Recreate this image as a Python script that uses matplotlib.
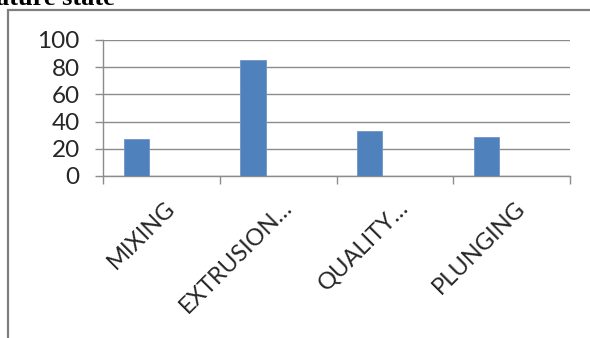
import numpy as np
import matplotlib.pyplot as plt
import matplotlib.transforms as mtransforms
from matplotlib.patches import Rectangle

categories = ['MIXING', 'EXTRUSION\u2026', 'QUALITY\u2026', 'PLUNGING']
values = [27, 85, 33, 29]
yticks = [0, 20, 40, 60, 80, 100]

bar_color = '#4F81BD'
grid_color = '#8c8c8c'
text_color = '#262626'
label_font = 'Lato'

fig = plt.figure(figsize=(5.9, 3.38), dpi=100)

# chart border, running off the right and bottom of the picture
fig.patches.append(Rectangle((8/590, -0.2), 1.0, 1.2 - 10/338, transform=fig.transFigure,
                             fill=False, edgecolor='#7f7f7f', lw=1.6))

# cut off caption above the chart
fig.text(115/590, 1 - 5/338, 'ature state', ha='right', va='baseline',
         fontsize=19, fontweight='bold', family='Liberation Serif', color='black')

ax = fig.add_axes([103/590, 1 - 176/338, 467/590, 136/338])

x = np.arange(len(categories))
bw = 0.215
ax.bar(x - bw, values, width=bw, color=bar_color, edgecolor='#6f96c8', lw=0.6, zorder=3)

ax.set_xlim(-0.5, len(categories) - 0.5)
ax.set_ylim(0, 100)
ax.set_yticks(yticks)
ax.yaxis.grid(True, color=grid_color, lw=1.0, zorder=0)
ax.tick_params(axis='y', length=5.8, width=1.0, color=grid_color, pad=11,
               labelsize=17.5, labelcolor=text_color)
for t in ax.get_yticklabels():
    t.set_family(label_font)

# category ticks sit at the boundaries
ax.set_xticks(np.arange(len(categories) + 1) - 0.5)
ax.set_xticklabels([])
ax.tick_params(axis='x', length=5.8, width=1.0, color=grid_color)

for s in ['top', 'right']:
    ax.spines[s].set_visible(False)
for s in ['left', 'bottom']:
    ax.spines[s].set_color(grid_color)
    ax.spines[s].set_linewidth(1.0)

trans = mtransforms.blended_transform_factory(ax.transData, ax.transAxes)
off = mtransforms.ScaledTranslation(15/100, -33/100, fig.dpi_scale_trans)
for i, lab in enumerate(categories):
    ax.text(i, 0, lab, transform=trans + off, rotation=45, rotation_mode='anchor',
            ha='right', va='baseline', fontsize=17, family=label_font, color=text_color)

fig.savefig('out.png', dpi=100)
